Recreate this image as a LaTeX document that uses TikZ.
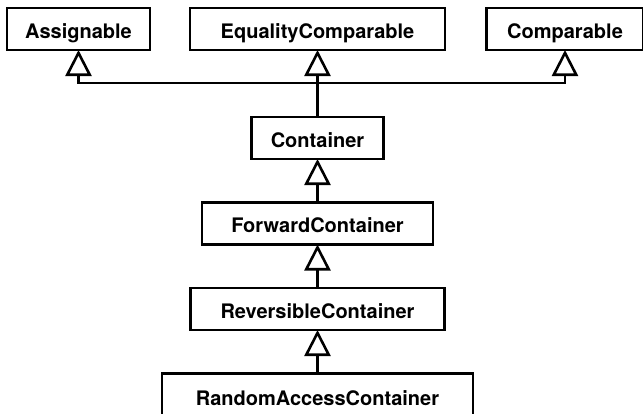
\documentclass[tikz,border=0pt]{standalone}
\usepackage{fontspec}
\setmainfont{TeX Gyre Heros}
\usetikzlibrary{arrows.meta, positioning}
\tikzstyle{concept} = [rectangle, draw=black, fill=white, line width=2.6pt, minimum height=42pt,
  text centered, text height=18.5pt, text depth=0pt, inner sep=0pt, outer sep=0pt,
  font=\fontsize{20}{22}\selectfont\bfseries]
\tikzstyle{refines} = [line width=2.6pt, -{Triangle[open, length=26pt, width=26pt]}]

\begin{document}
\begin{tikzpicture}[x=1pt, y=-1pt, node distance=43.5pt]
  \useasboundingbox (0,0) rectangle (643,413);

  % base concepts along the top
  \node (assign) [concept, minimum width=143pt] at (78.5,29) {Assignable};
  \node (eqcomp) [concept, minimum width=255pt] at (317.5,29) {EqualityComparable};
  \node (comp)   [concept, minimum width=157pt] at (565,29) {Comparable};
  \coordinate (join) at (317.5,83);

  % refinement chain
  \node (cont) [concept, minimum width=132pt, below=34pt of join] {Container};
  \node (fwd)  [concept, minimum width=231pt, below=of cont] {ForwardContainer};
  \node (rev)  [concept, minimum width=254pt, below=of fwd] {ReversibleContainer};
  \node (rand) [concept, minimum width=311pt, minimum height=46pt, below=of rev] {RandomAccessContainer};

  \draw[line width=2.6pt] (cont) -- (join);
  \draw[refines] (join) -| (assign);
  \draw[refines] (join) -- (eqcomp);
  \draw[refines] (join) -| (comp);
  \draw[refines] (fwd)  -- (cont);
  \draw[refines] (rev)  -- (fwd);
  \draw[refines] (rand) -- (rev);
\end{tikzpicture}
\end{document}
